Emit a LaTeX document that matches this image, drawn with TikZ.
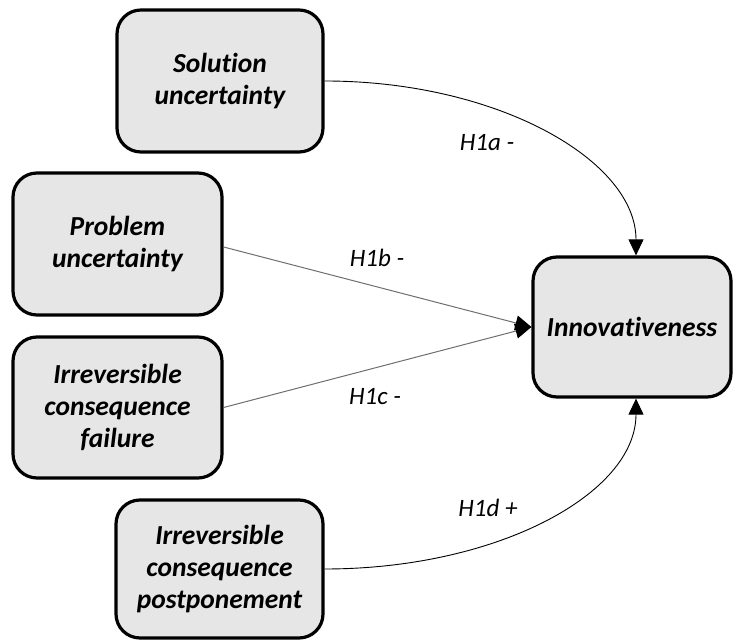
\documentclass[tikz,border=0pt]{standalone}
\usepackage{fontspec}
\setmainfont{Carlito}[Ligatures=NoCommon]
\usetikzlibrary{arrows.meta}
\definecolor{boxfill}{HTML}{E6E6E6}
\definecolor{linkgray}{HTML}{6E6E6E}
\begin{document}
\begin{tikzpicture}[x=1pt,y=1pt,
  construct/.style={draw=black, line width=3.2pt, fill=boxfill, rounded corners=24pt,
    align=center, inner sep=0pt,
    font=\fontsize{27.5}{32}\selectfont\bfseries\itshape},
  hyp/.style={font=\fontsize{25}{29}\selectfont\itshape},
  tip/.style={-{Triangle[length=16pt,width=15pt,color=black]}},
  curved/.style={tip, draw=black, line width=0.9pt},
  straight/.style={tip, draw=linkgray, line width=1pt}]
\useasboundingbox (0,0) rectangle (733,642);

\node[construct, minimum width=206, minimum height=142] (sol) at (220,561) {Solution\\uncertainty};
\node[construct, minimum width=209, minimum height=142] (prob) at (117.5,398) {Problem\\uncertainty};
\node[construct, minimum width=209, minimum height=141] (fail) at (117.5,234.5) {Irreversible\\consequence\\failure};
\node[construct, minimum width=207, minimum height=138] (post) at (219.5,73) {Irreversible\\consequence\\postponement};
\node[construct, minimum width=198, minimum height=140] (inn) at (632,315) {Innovativeness};

% curved effects entering from above and below
\draw[curved] (sol.east) .. controls +(173,0) and +(0,95) .. ([xshift=4pt]inn.north);
\draw[curved] (post.east) .. controls +(173,0) and +(0,-95) .. ([xshift=4pt]inn.south);

% straight effects entering from the left
\draw[straight] ([yshift=-3pt]prob.east) -- (inn.west);
\draw[straight] (fail.east) -- (inn.west);

% hypothesis labels
\node[hyp] (ha) at (487,499) {H1a -};
\node[hyp] (hb) at (377,384) {H1b -};
\node[hyp] (hc) at (375,245) {H1c -};
\node[hyp] (hd) at (488,134) {H1d +};
\end{tikzpicture}
\end{document}
